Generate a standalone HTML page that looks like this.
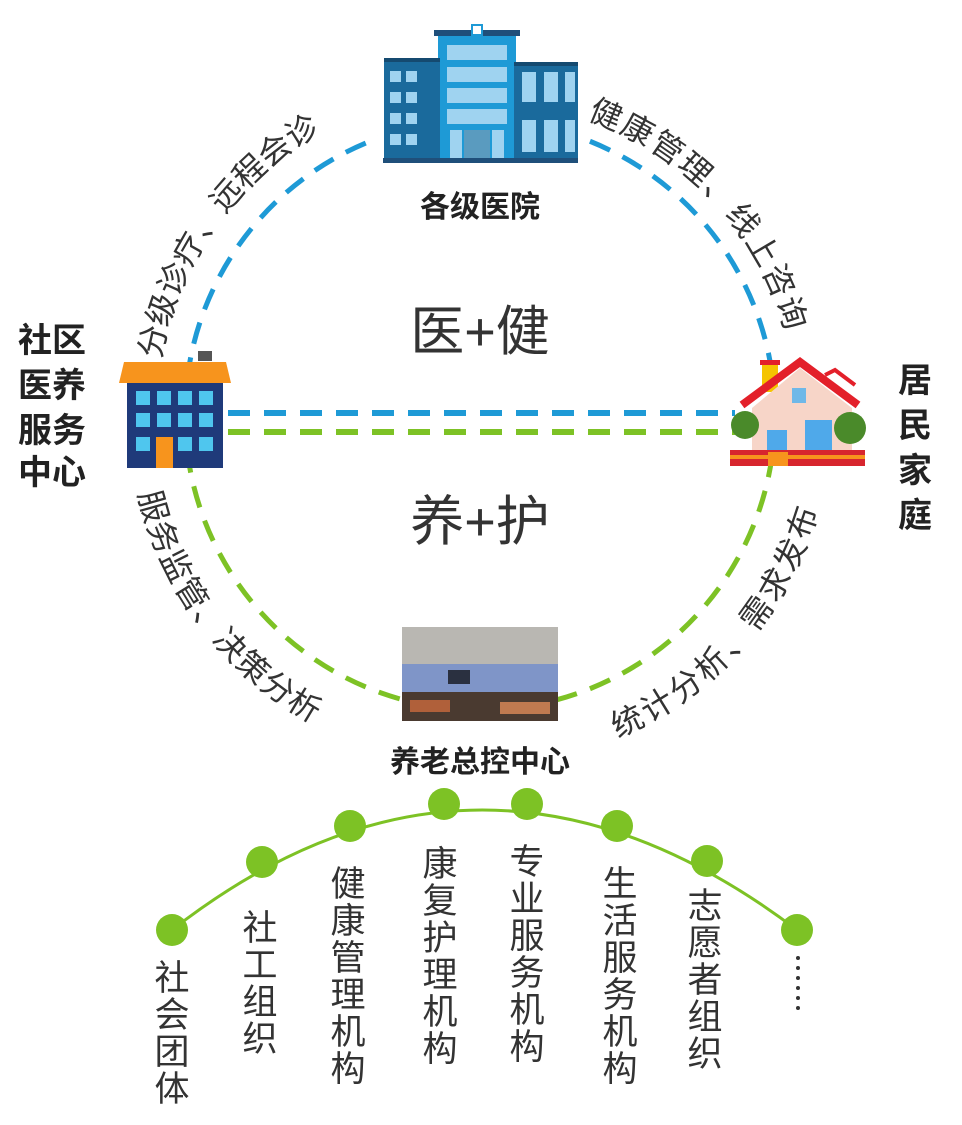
<!DOCTYPE html>
<html><head><meta charset="utf-8"><style>
html,body{margin:0;padding:0;background:#fff}
svg{display:block}
text{font-family:"Liberation Sans","Noto Sans CJK SC",sans-serif}
</style></head><body>
<svg width="962" height="1125" viewBox="0 0 962 1125" xmlns="http://www.w3.org/2000/svg">
<defs>
<path id="tl" d="M150,357 A335,335 0 0 1 365,100"/>
<path id="tr" d="M591,109 A325,325 0 0 1 805,370"/>
<path id="bl" d="M149,491 A340,340 0 0 0 392,743"/>
<path id="br" d="M613,728 A340,340 0 0 0 819,445"/>
</defs>
<path d="M185,415 A295,295 0 0 1 775,415" fill="none" stroke="#1e9ad6" stroke-width="5" stroke-dasharray="22 14"/>
<path d="M185,415 A295,295 0 0 0 775,415" fill="none" stroke="#7dc225" stroke-width="5" stroke-dasharray="22 14"/>
<line x1="228" y1="413" x2="735" y2="413" stroke="#1e9ad6" stroke-width="6" stroke-dasharray="22 14"/>
<line x1="228" y1="432" x2="735" y2="432" stroke="#7dc225" stroke-width="6" stroke-dasharray="22 14"/>

<rect x="378" y="30" width="205" height="135" fill="#fff"/>
<rect x="434" y="30" width="86" height="6" fill="#1f4f7a"/>
<rect x="472" y="25" width="10" height="10" fill="#fff" stroke="#1e9ad6" stroke-width="2"/>
<rect x="438" y="36" width="78" height="124" fill="#1e9ad6"/>
<rect x="384" y="58" width="56" height="102" fill="#1a6a9c"/>
<rect x="514" y="62" width="64" height="98" fill="#1a6a9c"/>
<rect x="384" y="58" width="56" height="4" fill="#154a70"/>
<rect x="514" y="62" width="64" height="4" fill="#154a70"/>
<g fill="#9fd3f0">
<rect x="390" y="71" width="11" height="11"/><rect x="406" y="71" width="11" height="11"/>
<rect x="390" y="92" width="11" height="11"/><rect x="406" y="92" width="11" height="11"/>
<rect x="390" y="113" width="11" height="11"/><rect x="406" y="113" width="11" height="11"/>
<rect x="390" y="134" width="11" height="11"/><rect x="406" y="134" width="11" height="11"/>
<rect x="447" y="45" width="60" height="15"/><rect x="447" y="67" width="60" height="15"/>
<rect x="447" y="88" width="60" height="15"/><rect x="447" y="109" width="60" height="15"/>
<rect x="522" y="72" width="14" height="30"/><rect x="544" y="72" width="14" height="30"/><rect x="565" y="72" width="10" height="30"/>
<rect x="522" y="120" width="14" height="32"/><rect x="544" y="120" width="14" height="32"/><rect x="565" y="120" width="10" height="32"/>
<rect x="450" y="130" width="12" height="28"/><rect x="492" y="130" width="12" height="28"/>
</g>
<rect x="464" y="130" width="26" height="30" fill="#5a9bbf"/>
<rect x="383" y="158" width="195" height="5" fill="#1f4f7a"/>

<rect x="198" y="351" width="14" height="10" fill="#555"/>
<path d="M124,362 L226,362 L231,383 L119,383 Z" fill="#f7941d"/>
<rect x="127" y="383" width="96" height="85" fill="#1f3a7a"/>
<g fill="#4fc6ee">
<rect x="136" y="391" width="14" height="14"/><rect x="157" y="391" width="14" height="14"/><rect x="178" y="391" width="14" height="14"/><rect x="199" y="391" width="14" height="14"/>
<rect x="136" y="413" width="14" height="14"/><rect x="157" y="413" width="14" height="14"/><rect x="178" y="413" width="14" height="14"/><rect x="199" y="413" width="14" height="14"/>
<rect x="136" y="437" width="14" height="14"/><rect x="178" y="437" width="14" height="14"/><rect x="199" y="437" width="14" height="14"/>
</g>
<rect x="156" y="437" width="17" height="31" fill="#f7941d"/>

<rect x="762" y="362" width="16" height="30" fill="#f5c400"/>
<rect x="760" y="360" width="20" height="5" fill="#e3202a"/>
<path d="M752,408 L752,462 L852,462 L852,408 L800,368 Z" fill="#f7d5c8"/>
<path d="M742,405 L800,362 L858,405" fill="none" stroke="#e3202a" stroke-width="8"/>
<path d="M825,375 L835,370 L855,385" fill="none" stroke="#e3202a" stroke-width="4"/>
<rect x="792" y="388" width="14" height="15" fill="#6fb8e8"/>
<rect x="805" y="420" width="27" height="30" fill="#4fa9ea"/>
<rect x="767" y="430" width="20" height="26" fill="#4fa9ea"/>
<circle cx="745" cy="425" r="14" fill="#4a8a2a"/>
<circle cx="850" cy="428" r="16" fill="#4a8a2a"/>
<rect x="730" y="450" width="135" height="16" fill="#d7262e"/>
<rect x="730" y="455" width="135" height="4" fill="#f7941d"/>
<rect x="768" y="452" width="20" height="14" fill="#f7941d"/>

<rect x="402" y="627" width="156" height="94" fill="#9a9a9a"/>
<rect x="402" y="627" width="156" height="40" fill="#b9b7b2"/>
<rect x="402" y="664" width="156" height="28" fill="#7f95c8"/>
<rect x="448" y="670" width="22" height="14" fill="#2a3040"/>
<rect x="402" y="692" width="156" height="29" fill="#4a3a30"/>
<rect x="410" y="700" width="40" height="12" fill="#b0603a"/>
<rect x="500" y="702" width="50" height="12" fill="#c07a50"/>

<g font-size="32" fill="#333" dominant-baseline="central">
<text letter-spacing="1"><textPath href="#tl">分级诊疗、远程会诊</textPath></text>
<text letter-spacing="3"><textPath href="#tr">健康管理、线上咨询</textPath></text>
<text letter-spacing="0"><textPath href="#bl">服务监管、决策分析</textPath></text>
<text letter-spacing="2"><textPath href="#br">统计分析、需求发布</textPath></text>
</g>

<g font-weight="bold" fill="#222" font-size="30" text-anchor="middle">
<text x="480" y="217">各级医院</text>
<text x="480" y="772">养老总控中心</text>
</g>
<g font-weight="bold" fill="#222" font-size="34">
<text x="18" y="352">社区</text>
<text x="18" y="397">医养</text>
<text x="18" y="442">服务</text>
<text x="18" y="484">中心</text>
</g>
<g font-weight="bold" fill="#222" font-size="34" text-anchor="middle">
<text x="915" y="392">居</text>
<text x="915" y="437">民</text>
<text x="915" y="482">家</text>
<text x="915" y="527">庭</text>
</g>
<g fill="#333" font-size="54" text-anchor="middle">
<text x="480" y="350">医+健</text>
<text x="480" y="540">养+护</text>
</g>

<path d="M172,930 Q480,690 797,930" fill="none" stroke="#7dc225" stroke-width="3"/>
<g fill="#7dc225">
<circle cx="172" cy="930" r="16"/><circle cx="262" cy="862" r="16"/><circle cx="350" cy="826" r="16"/><circle cx="444" cy="804" r="16"/>
<circle cx="527" cy="804" r="16"/><circle cx="617" cy="826" r="16"/><circle cx="707" cy="861" r="16"/><circle cx="797" cy="930" r="16"/>
</g>
<g font-size="35" fill="#333" text-anchor="middle">
<text x="172" y="990">社</text><text x="172" y="1027">会</text><text x="172" y="1064">团</text><text x="172" y="1101">体</text>
<text x="260" y="940">社</text><text x="260" y="977">工</text><text x="260" y="1014">组</text><text x="260" y="1051">织</text>
<text x="348" y="896">健</text><text x="348" y="933">康</text><text x="348" y="970">管</text><text x="348" y="1007">理</text><text x="348" y="1044">机</text><text x="348" y="1081">构</text>
<text x="440" y="876">康</text><text x="440" y="913">复</text><text x="440" y="950">护</text><text x="440" y="987">理</text><text x="440" y="1024">机</text><text x="440" y="1061">构</text>
<text x="527" y="874">专</text><text x="527" y="911">业</text><text x="527" y="948">服</text><text x="527" y="985">务</text><text x="527" y="1022">机</text><text x="527" y="1059">构</text>
<text x="620" y="896">生</text><text x="620" y="933">活</text><text x="620" y="970">服</text><text x="620" y="1007">务</text><text x="620" y="1044">机</text><text x="620" y="1081">构</text>
<text x="705" y="918">志</text><text x="705" y="955">愿</text><text x="705" y="992">者</text><text x="705" y="1029">组</text><text x="705" y="1066">织</text>
</g>
<g fill="#333">
<circle cx="798" cy="958" r="2"/><circle cx="798" cy="968" r="2"/><circle cx="798" cy="978" r="2"/><circle cx="798" cy="988" r="2"/><circle cx="798" cy="998" r="2"/><circle cx="798" cy="1008" r="2"/>
</g>
</svg>
</body></html>
